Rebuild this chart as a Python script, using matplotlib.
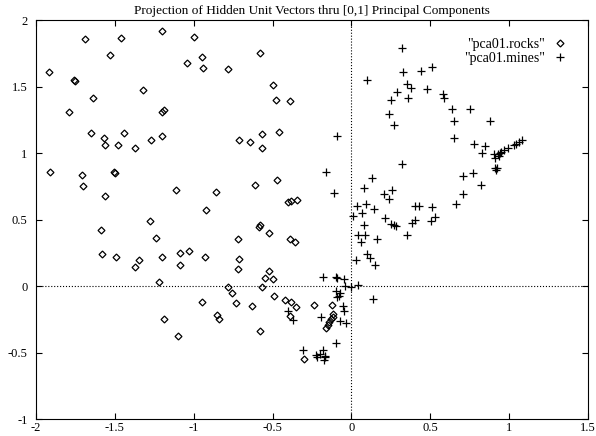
import matplotlib
matplotlib.use("Agg")
from matplotlib import pyplot as plt

plt.rcParams['font.family'] = ['Liberation Serif', 'DejaVu Serif']

# componentes principais [0,1] das unidades ocultas - rochas
rocks_x = [-1.69, -1.46, -1.20, -1.00, -1.53, -1.915, -1.76, -1.755, -1.04, -1.32,
           -1.64, -1.79, -1.20, -1.19, -1.65, -1.57, -1.565, -1.48, -1.44, -1.37,
           -1.27, -1.20,
           -0.95, -0.94, -0.78, -0.58, -0.50, -0.48, -0.39, -0.46, -0.565, -0.71,
           -0.64, -0.57,
           -1.91, -1.71, -1.50, -1.505, -1.70, -1.56, -1.11, -1.28, -1.585, -1.24,
           -1.58, -1.49, -1.35, -1.37, -1.20, -1.09, -1.03, -1.09, -1.22,
           -0.47, -0.61, -0.86, -0.92, -0.40, -0.38, -0.345, -0.58, -0.585, -0.52,
           -0.72, -0.39, -0.36, -0.93, -0.71, -0.72, -0.52, -0.55, -0.495, -0.785,
           -0.565,
           -0.755, -0.95, -0.73, -0.63, -0.49, -0.42, -0.38, -0.35, -0.24, -0.125,
           -1.19, -0.85, -0.84, -0.39, -1.10, -0.58, -0.115, -0.12, -0.13, -0.14,
           -0.15, -0.16, -0.30]
rocks_y = [1.86, 1.865, 1.915, 1.874, 1.74, 1.61, 1.55, 1.54, 1.68, 1.47,
           1.41, 1.31, 1.31, 1.32, 1.15, 1.11, 1.06, 1.06, 1.15, 1.04,
           1.10, 1.13,
           1.72, 1.64, 1.63, 1.75, 1.51, 1.40, 1.39, 1.16, 1.14, 1.10,
           1.085, 1.035,
           0.86, 0.835, 0.85, 0.855, 0.75, 0.68, 0.72, 0.49, 0.42, 0.36,
           0.24, 0.22, 0.195, 0.14, 0.215, 0.25, 0.265, 0.16, 0.03,
           0.80, 0.76, 0.71, 0.57, 0.63, 0.64, 0.65, 0.455, 0.445, 0.40,
           0.35, 0.35, 0.33, 0.22, 0.20, 0.13, 0.115, 0.06, 0.055, -0.005,
           -0.008,
           -0.055, -0.12, -0.13, -0.15, -0.075, -0.105, -0.12, -0.16, -0.145, -0.14,
           -0.25, -0.22, -0.25, -0.225, -0.375, -0.34, -0.21, -0.23, -0.25, -0.27,
           -0.29, -0.315, -0.55]

# minas
mines_x = [-0.09, -0.16, -0.11, 0.01, -0.18, -0.10, -0.09, -0.05, -0.04, 0.0, 0.04,
           -0.10, -0.07, -0.08, -0.09, -0.055, -0.05, -0.40, -0.37, -0.19, -0.075,
           -0.035, -0.10, -0.31, -0.225, -0.20, -0.18, -0.17, -0.165, -0.175, -0.22,
           0.135,
           0.32, 0.10, 0.33, 0.44, 0.51, 0.35, 0.38, 0.29, 0.48, 0.25, 0.36, 0.58,
           0.59, 0.24, 0.27, 0.64, 0.75, 0.65, 0.88, 0.65, 0.78, 0.85, 0.83, 0.905,
           0.93, 0.94, 0.95, 0.97, 0.99, 1.03, 1.045, 1.065, 1.08, 0.91, 0.935,
           0.91, 0.92, 0.915, 0.32, 0.71, 0.77, 0.82, 0.71, 0.66, 0.13, 0.08, 0.205,
           0.255, 0.24, 0.035, 0.095, 0.14, 0.07, 0.21, 0.08, 0.25, 0.27, 0.28,
           0.40, 0.43, 0.51, 0.40, 0.385, 0.53, 0.505, 0.35, 0.04, 0.085, 0.16,
           0.06, 0.10, 0.115, 0.03, 0.15]
mines_y = [1.13, 0.86, 0.70, 0.53, 0.065, 0.07, 0.06, 0.05, 0.0, -0.01, 0.01,
           -0.04, -0.055, -0.075, -0.085, -0.15, -0.19, -0.19, -0.255, -0.23, -0.265,
           -0.275, -0.43, -0.48, -0.52, -0.51, -0.48, -0.525, -0.535, -0.555, -0.535,
           -0.10,
           1.79, 1.55, 1.61, 1.62, 1.65, 1.52, 1.49, 1.46, 1.48, 1.40, 1.41, 1.44,
           1.41, 1.29, 1.21, 1.33, 1.33, 1.24, 1.24, 1.11, 1.07, 1.055, 1.0, 0.99,
           0.99, 1.0, 1.01, 1.02, 1.04, 1.06, 1.07, 1.085, 1.095, 0.96, 0.975,
           0.885, 0.89, 0.875, 0.92, 0.83, 0.85, 0.76, 0.69, 0.62, 0.815, 0.735, 0.695,
           0.72, 0.655, 0.605, 0.615, 0.58, 0.55, 0.51, 0.455, 0.465, 0.455, 0.45,
           0.60, 0.605, 0.595, 0.50, 0.47, 0.52, 0.49, 0.38, 0.385, 0.38, 0.355,
           0.33, 0.24, 0.21, 0.195, 0.155]

x_ticks = [-2, -1.5, -1, -0.5, 0, 0.5, 1, 1.5]
y_ticks = [-1, -0.5, 0, 0.5, 1, 1.5, 2]

fig = plt.figure(figsize=(5.96, 4.36), dpi=100)
ax = fig.add_axes([36 / 596, 17 / 436, 552 / 596, 399 / 436])

# eixos pontilhados em zero
ax.axhline(0, color='black', linestyle=':', linewidth=0.8, zorder=1)
ax.axvline(0, color='black', linestyle=':', linewidth=0.8, zorder=1)

ax.plot(rocks_x, rocks_y, linestyle='none', marker='D', markersize=3.5,
        markerfacecolor='none', markeredgecolor='black', markeredgewidth=0.9,
        label='"pca01.rocks"')
ax.plot(mines_x, mines_y, linestyle='none', marker='+', markersize=6,
        color='black', markeredgewidth=0.9, label='"pca01.mines"')

ax.set_xlim(-2, 1.5)
ax.set_ylim(-1, 2)
ax.set_xticks(x_ticks)
ax.set_yticks(y_ticks)
ax.set_xticklabels([f'{t:g}' for t in x_ticks])
ax.set_yticklabels([f'{t:g}' for t in y_ticks])
ax.tick_params(direction='in', top=True, right=True, length=4, width=0.8,
               labelsize=9)
ax.tick_params(axis='x', pad=2)
ax.tick_params(axis='y', pad=6)
for s in ax.spines.values():
    s.set_linewidth(0.8)

ax.set_title('Projection of Hidden Unit Vectors thru [0,1] Principal Components',
             fontsize=9.5, pad=4)

ax.legend(loc='upper right', frameon=False, markerfirst=False, fontsize=10,
          handlelength=1.0, handletextpad=0.6, labelspacing=0.05,
          borderaxespad=0.0, bbox_to_anchor=(0.972, 0.968))

fig.savefig('out.png', dpi=100)
